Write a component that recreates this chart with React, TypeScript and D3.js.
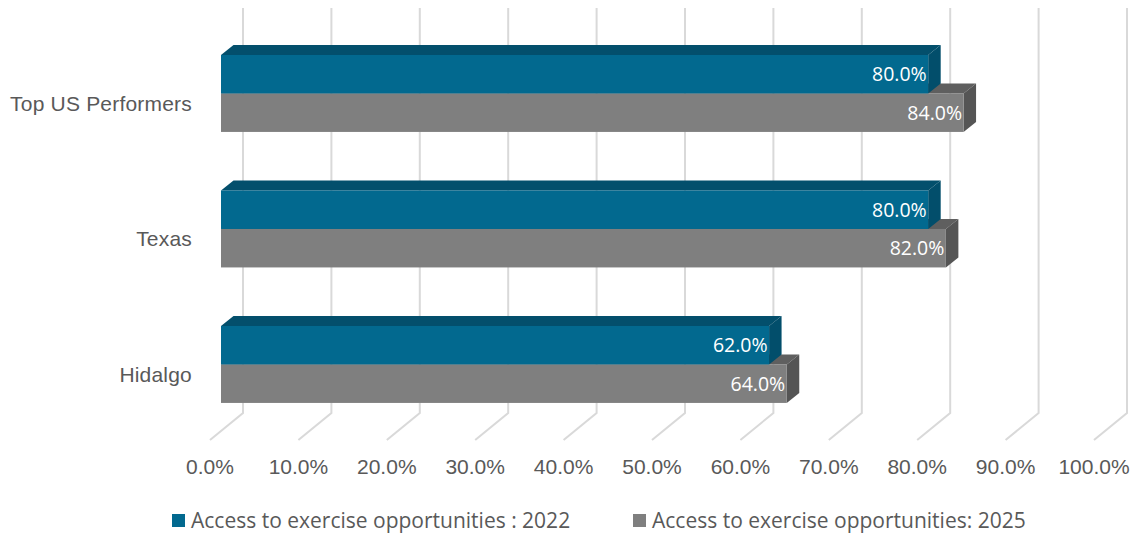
import React from 'react';
import * as d3 from 'd3';

const categories = ['Top US Performers', 'Texas', 'Hidalgo'];
const seriesNames = ['Access to exercise opportunities : 2022', 'Access to exercise opportunities: 2025'];
const values2022 = [0.8, 0.8, 0.62];
const values2025 = [0.84, 0.82, 0.64];
const ticks = [0, 0.1, 0.2, 0.3, 0.4, 0.5, 0.6, 0.7, 0.8, 0.9, 1.0];

const W = 1133;
const H = 535;

// 3D offsets
const DEPTH_X = 12.5;
const DEPTH_Y = -10;

const colors = [
  { front: '#02698f', top: '#034f6c', side: '#024e6b' },
  { front: '#7f7f7f', top: '#5f5f5f', side: '#555555' },
];

const App: React.FC = () => {
  const xBack = d3.scaleLinear().domain([0, 1]).range([243, 1127]);
  const xFront = d3.scaleLinear().domain([0, 1]).range([221, 1105]);
  const xFloor = d3.scaleLinear().domain([0, 1]).range([210, 1094]);

  const y = d3.scaleBand<string>()
    .domain(categories)
    .range([25.7, 432.2])
    .paddingInner(0.432)
    .paddingOuter(0.216);

  const ySub = d3.scaleBand<number>()
    .domain([0, 1])
    .range([0, y.bandwidth()]);

  const seriesValues = [values2022, values2025];
  const fmt = d3.format('.1%');

  const gridTop = 8;
  const gridBottom = 413;
  const floorDx = -33;
  const floorDy = 27;

  const bar = (cat: string, s: number, v: number) => {
    const x0 = xFront(0);
    const x1 = xFront(v);
    const y0 = (y(cat) ?? 0) + (ySub(s) ?? 0);
    const h = ySub.bandwidth();
    const c = colors[s];
    const top = `M${x0},${y0} L${x0 + DEPTH_X},${y0 + DEPTH_Y} L${x1 + DEPTH_X},${y0 + DEPTH_Y} L${x1},${y0} Z`;
    const side = `M${x1},${y0} L${x1 + DEPTH_X},${y0 + DEPTH_Y} L${x1 + DEPTH_X},${y0 + h + DEPTH_Y} L${x1},${y0 + h} Z`;
    return (
      <g key={cat + s}>
        <path d={top} fill={c.top} />
        <path d={side} fill={c.side} />
        <rect x={x0} y={y0} width={x1 - x0} height={h} fill={c.front} />
        <text
          x={x1 - 1.5}
          y={y0 + h / 2}
          dy="0.36em"
          textAnchor="end"
          fill="#ffffff"
          fontSize={19.5}
          fontFamily="'Open Sans', sans-serif"
        >
          {fmt(v)}
        </text>
      </g>
    );
  };

  return (
    <svg width={W} height={H} style={{ display: 'block', position: 'absolute', left: 0, top: 0, background: '#fff' }}>
      {/* gridlines: back wall + floor */}
      {ticks.map((t) => (
        <path
          key={t}
          d={`M${xBack(t)},${gridTop} L${xBack(t)},${gridBottom} L${xBack(t) + floorDx},${gridBottom + floorDy}`}
          fill="none"
          stroke="#d9d9d9"
          strokeWidth={2}
        />
      ))}

      {/* bars: lower series first so upper covers its top face */}
      {categories.map((cat, i) => (
        <g key={cat}>
          {bar(cat, 1, seriesValues[1][i])}
          {bar(cat, 0, seriesValues[0][i])}
        </g>
      ))}

      {/* category labels */}
      {categories.map((cat) => (
        <text
          key={cat}
          x={192}
          y={(y(cat) ?? 0) + y.bandwidth() / 2 + 9.5}
          dy="0.36em"
          textAnchor="end"
          fill="#595959"
          fontSize={21}
          letterSpacing={0.2}
          fontFamily="'Liberation Sans', Arial, sans-serif"
        >
          {cat}
        </text>
      ))}

      {/* tick labels */}
      {ticks.map((t) => (
        <text
          key={t}
          x={xFloor(t)}
          y={466}
          dy="0.36em"
          textAnchor="middle"
          fill="#595959"
          fontSize={21}
          fontFamily="'Liberation Sans', Arial, sans-serif"
        >
          {fmt(t)}
        </text>
      ))}

      {/* legend */}
      {seriesNames.map((name, i) => {
        const lx = [172, 633][i];
        return (
          <g key={name}>
            <rect x={lx} y={514} width={13} height={13} fill={colors[i].front} />
            <text
              x={lx + 19}
              y={520.5}
              dy="0.36em"
              fill="#595959"
              fontSize={21}
              fontFamily="'Open Sans', sans-serif"
            >
              {name}
            </text>
          </g>
        );
      })}
    </svg>
  );
};

export default App;
